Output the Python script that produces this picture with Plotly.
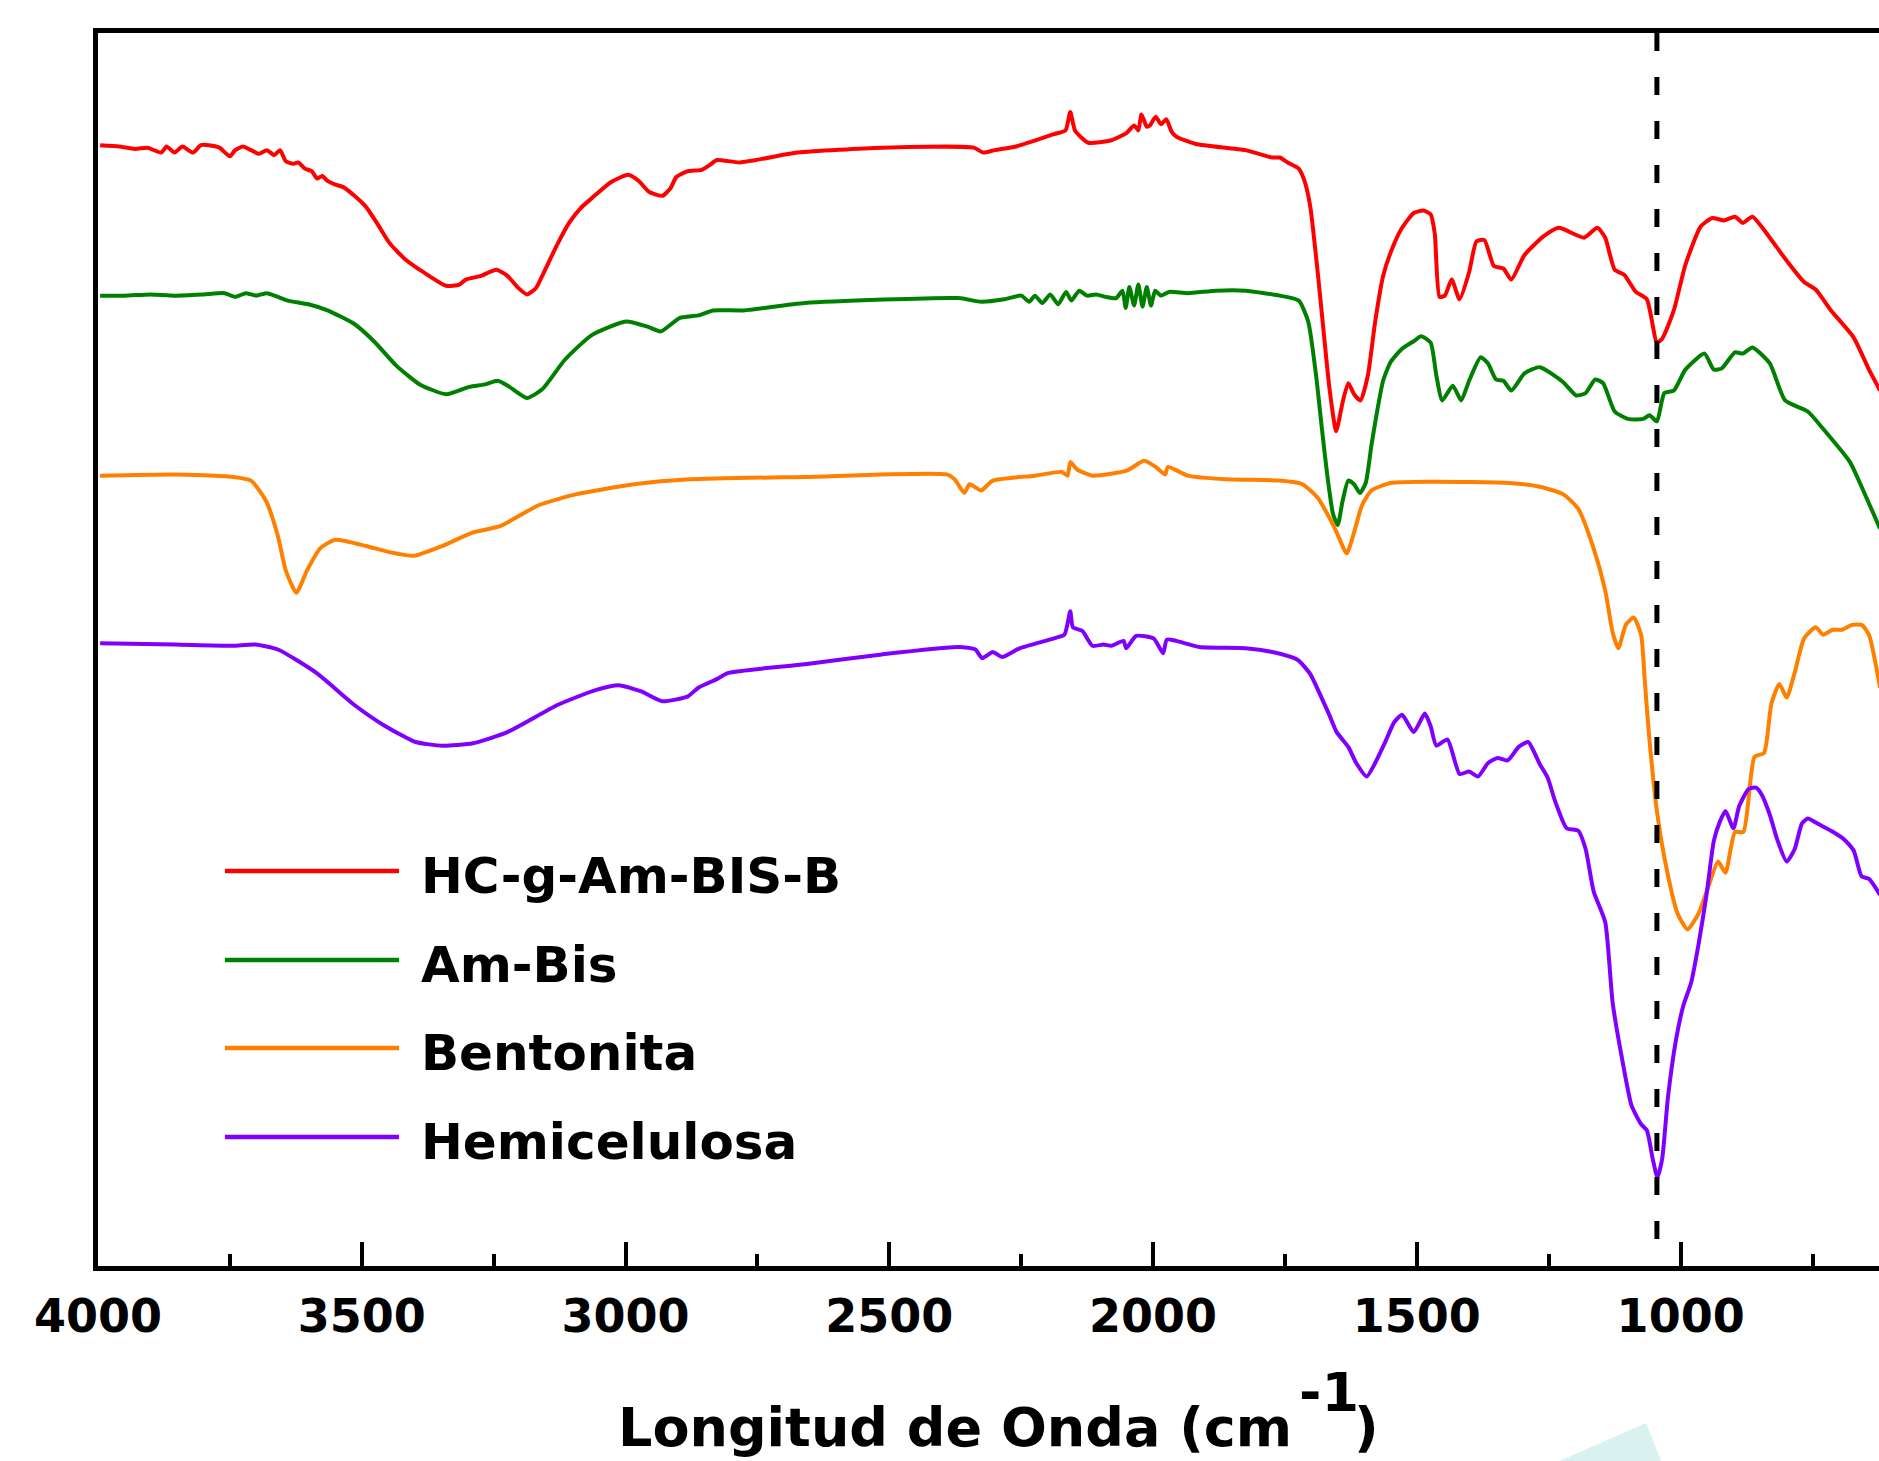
import plotly.graph_objects as go

# ---------------- data (wavenumber in cm-1, transmittance in a.u., offset per sample) -------------
hc_wn = [3996, 3960, 3930, 3906, 3880, 3870, 3855, 3840, 3820, 3805, 3790, 3770, 3750, 3740, 3725, 3710,
         3695, 3680, 3666, 3655, 3644, 3630, 3620, 3608, 3595, 3585, 3575, 3565, 3550, 3535, 3514, 3492,
         3470, 3448, 3419, 3383, 3340, 3315, 3303, 3274, 3245, 3224, 3205, 3187, 3170, 3158, 3130, 3107,
         3085, 3064, 3028, 2995, 2975, 2955, 2930, 2915, 2904, 2882, 2856, 2840, 2827, 2783, 2674, 2514,
         2340, 2322, 2300, 2260, 2188, 2166, 2157, 2148, 2123, 2079, 2050, 2036, 2028, 2022, 2012, 2006,
         1995, 1985, 1975, 1965, 1956, 1919, 1825, 1774, 1760, 1745, 1724, 1713, 1702, 1688, 1677, 1666,
         1653, 1641, 1630, 1619, 1607, 1593, 1579, 1564, 1546, 1528, 1506, 1488, 1474, 1466, 1457, 1447,
         1434, 1419, 1401, 1387, 1372, 1354, 1336, 1321, 1296, 1260, 1231, 1183, 1158, 1143, 1125, 1107,
         1085, 1064, 1045, 1035, 1013, 991, 962, 940, 918, 897, 882, 864, 831, 802, 766, 744, 715, 672,
         643, 622]
hc_t = [90.9, 90.8, 90.6, 90.7, 90.3, 90.8, 90.3, 90.8, 90.3, 90.9, 90.9, 90.7, 90.0, 90.5, 90.8, 90.5,
        90.2, 90.5, 90.1, 90.5, 89.6, 89.4, 89.5, 89.0, 88.8, 88.2, 88.4, 88.0, 87.7, 87.5, 86.8, 85.9,
        84.5, 83.0, 81.7, 80.6, 79.5, 79.6, 80.0, 80.3, 80.8, 80.3, 79.4, 78.8, 79.3, 80.3, 82.8, 84.6,
        85.8, 86.6, 87.9, 88.5, 88.0, 87.1, 86.8, 87.4, 88.3, 88.8, 88.9, 89.3, 89.7, 89.5, 90.3, 90.7,
        90.7, 90.3, 90.5, 90.8, 91.8, 92.1, 93.6, 92.1, 91.1, 91.3, 91.9, 92.5, 92.1, 93.4, 92.4, 92.5,
        93.2, 92.6, 93.0, 92.0, 91.6, 91.0, 90.5, 89.9, 89.9, 89.5, 89.0, 88.0, 85.9, 80.6, 75.9, 71.3,
        67.7, 70.0, 71.6, 70.7, 70.2, 72.2, 76.6, 80.3, 82.6, 84.2, 85.4, 85.6, 85.3, 83.7, 78.6, 78.7,
        80.0, 78.4, 80.6, 83.1, 83.2, 81.1, 80.9, 80.0, 82.0, 83.5, 84.2, 83.4, 84.2, 83.4, 80.8, 80.4,
        79.0, 78.4, 74.9, 75.2, 77.5, 81.2, 84.3, 85.0, 84.8, 85.1, 84.6, 85.1, 83.4, 81.7, 79.8, 79.2,
        77.5, 75.3, 72.7, 71.0]

ambis_wn = [3996, 3950, 3900, 3855, 3800, 3760, 3740, 3720, 3700, 3680, 3659, 3640, 3601, 3565, 3514,
            3477, 3434, 3390, 3340, 3296, 3267, 3242, 3220, 3187, 3158, 3115, 3064, 2999, 2960, 2933,
            2897, 2862, 2834, 2776, 2660, 2369, 2326, 2282, 2250, 2235, 2224, 2210, 2195, 2180, 2165,
            2155, 2140, 2125, 2108, 2090, 2070, 2058, 2052, 2045, 2036, 2028, 2020, 2012, 2004, 1996,
            1985, 1970, 1934, 1880, 1825, 1760, 1724, 1706, 1691, 1680, 1670, 1659, 1650, 1641, 1630,
            1619, 1608, 1597, 1586, 1575, 1564, 1550, 1528, 1506, 1492, 1474, 1463, 1452, 1432, 1416,
            1401, 1379, 1365, 1350, 1336, 1321, 1296, 1267, 1223, 1198, 1180, 1162, 1147, 1125, 1100,
            1071, 1059, 1045, 1031, 1013, 991, 955, 937, 922, 897, 882, 864, 831, 802, 759, 730, 679,
            657, 622]
ambis_t = [78.7, 78.7, 78.8, 78.7, 78.8, 78.9, 78.6, 78.9, 78.7, 78.9, 78.6, 78.3, 78.0, 77.5, 76.4,
           75.0, 73.0, 71.5, 70.7, 71.3, 71.5, 71.8, 71.3, 70.4, 71.1, 73.5, 75.5, 76.6, 76.2, 75.8,
           76.9, 77.1, 77.5, 77.5, 78.1, 78.5, 78.2, 78.4, 78.7, 78.2, 78.7, 78.1, 78.8, 78.0, 79.0,
           78.3, 79.1, 78.7, 78.8, 78.6, 78.5, 79.1, 77.7, 79.4, 77.9, 79.6, 77.8, 79.4, 77.9, 79.1,
           78.7, 79.0, 78.9, 79.1, 79.1, 78.7, 78.3, 76.6, 72.2, 67.9, 64.2, 61.0, 60.1, 62.0, 63.7,
           63.4, 62.7, 63.5, 66.6, 69.4, 71.8, 73.3, 74.4, 75.0, 75.4, 74.9, 72.2, 70.2, 71.4, 70.2,
           71.8, 73.7, 73.2, 71.9, 71.8, 71.0, 72.4, 72.9, 71.7, 70.6, 70.8, 71.9, 71.6, 69.3, 68.7,
           68.7, 69.0, 68.5, 70.8, 71.0, 72.7, 74.0, 72.7, 72.8, 74.1, 74.0, 74.5, 73.2, 70.2, 69.3,
           67.9, 65.2, 63.2, 59.8]

bent_wn = [3996, 3855, 3746, 3710, 3681, 3659, 3644, 3624, 3604, 3579, 3550, 3492, 3448, 3401, 3347,
           3289, 3238, 3165, 3093, 2984, 2877, 2660, 2391, 2376, 2358, 2348, 2326, 2304, 2224, 2173,
           2162, 2157, 2144, 2115, 2050, 2017, 1995, 1977, 1972, 1934, 1861, 1760, 1717, 1688, 1666,
           1652, 1633, 1619, 1604, 1586, 1550, 1470, 1325, 1267, 1223, 1194, 1165, 1143, 1129, 1118,
           1104, 1089, 1075, 1068, 1060, 1045, 1027, 1006, 987, 966, 948, 929, 915, 897, 881, 860,
           842, 828, 813, 799, 784, 766, 744, 730, 712, 694, 675, 657, 643, 622]
bent_t = [64.1, 64.2, 64.0, 63.7, 62.0, 59.2, 56.4, 54.6, 56.4, 58.2, 58.9, 58.4, 57.9, 57.6, 58.4,
          59.5, 60.0, 61.7, 62.6, 63.4, 63.8, 64.0, 64.2, 63.8, 62.7, 63.4, 62.9, 63.7, 64.1, 64.4,
          64.1, 65.2, 64.6, 64.1, 64.5, 65.3, 64.8, 64.2, 64.8, 64.1, 63.8, 63.7, 63.4, 62.3, 60.7,
          59.5, 57.8, 59.5, 61.7, 62.9, 63.5, 63.6, 63.5, 63.2, 62.6, 61.4, 58.2, 54.8, 51.4, 50.1,
          52.0, 52.6, 51.2, 47.5, 43.1, 36.9, 32.3, 28.6, 27.3, 28.6, 30.7, 32.8, 31.9, 35.2, 35.2, 41.3,
          41.6, 45.6, 47.2, 46.1, 48.1, 50.9, 51.8, 51.2, 51.6, 51.6, 52.0, 52.0, 51.2, 46.9]

hemi_wn = [3996, 3855, 3746, 3702, 3659, 3586, 3514, 3456, 3398, 3347, 3289, 3224, 3129, 3057, 3013,
           2970, 2930, 2882, 2862, 2827, 2805, 2660, 2514, 2369, 2337, 2324, 2304, 2286, 2253, 2188,
           2168, 2157, 2152, 2134, 2115, 2094, 2079, 2056, 2051, 2032, 1999, 1981, 1974, 1956, 1912,
           1825, 1774, 1739, 1724, 1702, 1684, 1666, 1652, 1630, 1615, 1595, 1579, 1561, 1543, 1528,
           1506, 1485, 1474, 1463, 1442, 1419, 1401, 1384, 1365, 1347, 1328, 1307, 1289, 1267, 1252,
           1238, 1216, 1194, 1180, 1165, 1143, 1129, 1111, 1093, 1075, 1064, 1053, 1044, 1035, 1024,
           1009, 995, 980, 966, 951, 937, 926, 915, 900, 889, 871, 857, 846, 831, 817, 799, 784, 770,
           759, 737, 715, 690, 672, 657, 643, 622]
hemi_t = [50.5, 50.4, 50.3, 50.4, 50.0, 48.1, 45.5, 43.8, 42.5, 42.2, 42.4, 43.3, 45.5, 46.7, 47.1,
          46.6, 45.8, 46.2, 46.9, 47.6, 48.1, 48.8, 49.6, 50.2, 50.0, 49.3, 49.8, 49.4, 50.1, 50.9,
          51.2, 53.1, 51.8, 51.5, 50.3, 50.4, 50.3, 50.7, 50.1, 51.1, 50.9, 49.7, 50.8, 50.7, 50.2,
          50.1, 49.8, 49.4, 49.1, 48.0, 46.4, 44.7, 43.3, 42.1, 40.8, 39.7, 40.8, 42.4, 44.1, 44.7,
          43.3, 44.8, 43.8, 42.2, 42.7, 39.9, 40.1, 39.7, 40.8, 41.2, 41.0, 42.1, 42.5, 40.7, 39.6,
          37.7, 35.5, 35.3, 33.8, 30.4, 27.9, 21.4, 16.8, 13.0, 11.5, 11.0, 8.7, 7.2, 8.7, 13.7,
          18.3, 21.1, 23.0, 26.1, 30.1, 34.5, 36.0, 36.9, 35.5, 37.3, 38.7, 38.8, 38.2, 36.6, 34.6, 32.8,
          33.8, 35.9, 36.3, 35.8, 35.3, 34.6, 33.7, 31.6, 31.4, 30.1]

series_names = ["HC-g-Am-BIS-B", "Am-Bis", "Bentonita", "Hemicelulosa"]
series_colors = ["#FF0000", "#008000", "#FF8000", "#8000FF"]
series_wn = [hc_wn, ambis_wn, bent_wn, hemi_wn]
series_t = [hc_t, ambis_t, bent_t, hemi_t]

ref_band = 1045          # marked band (cm-1)
x_range = [4000, 624]
y_range = [0, 100]

for w, t in zip(series_wn, series_t):
    assert len(w) == len(t), (len(w), len(t))

# ---------------- figure -------------
FONT = "DejaVu Sans"
fig = go.Figure()
for name, col, w, t in zip(series_names, series_colors, series_wn, series_t):
    fig.add_trace(go.Scatter(x=w, y=t, mode="lines", name=name,
                             line=dict(color=col, width=4, shape="spline", smoothing=0.55),
                             showlegend=False))

fig.add_shape(type="line", xref="x", yref="paper", x0=ref_band, x1=ref_band, y0=1, y1=0.01,
              line=dict(color="black", width=5, dash="18px,26px"))

# manual legend (long line samples as in the original)
leg_y = [0.3204, 0.2482, 0.1768, 0.1046]
for name, col, ly in zip(series_names, series_colors, leg_y):
    fig.add_shape(type="line", xref="paper", yref="paper", x0=0.0713, x1=0.169, y0=ly, y1=ly,
                  line=dict(color=col, width=4.5))
    fig.add_annotation(xref="paper", yref="paper", x=0.1802, y=ly - 0.004, text=name, showarrow=False,
                       xanchor="left", yanchor="middle",
                       font=dict(family=FONT, size=50, color="black", weight="bold"))

# axis title
tfont = dict(family=FONT, size=54, color="black", weight="bold")
fig.add_annotation(xref="paper", yref="paper", x=0.6715, y=-0.1306, text="Longitud de Onda (cm",
                   showarrow=False, xanchor="right", yanchor="middle", font=tfont)
fig.add_annotation(xref="paper", yref="paper", x=0.6732, y=-0.1022, text="-1",
                   showarrow=False, xanchor="left", yanchor="middle", font=tfont)
fig.add_annotation(xref="paper", yref="paper", x=0.7041, y=-0.1306, text=")",
                   showarrow=False, xanchor="left", yanchor="middle", font=tfont)

# decorative teal corner shape seen at the bottom of the original image
fig.add_shape(type="path", xref="paper", yref="paper",
              path="M 0.8692 -0.1273 L 0.8810 -0.17 L 0.8018 -0.17 Z",
              fillcolor="#DAF2EF", line=dict(width=0), layer="below")

fig.update_layout(
    width=1879, height=1461,
    margin=dict(l=98, r=0, t=33, b=195, pad=0),
    paper_bgcolor="white", plot_bgcolor="white",
    xaxis=dict(range=x_range, showline=True, linecolor="black", linewidth=5, mirror=True,
               ticks="inside", ticklen=24, tickwidth=4, tickcolor="black",
               tick0=0, dtick=500, showgrid=False, zeroline=False,
               tickfont=dict(family=FONT, size=46, color="black", weight="bold"),
               ticklabelstandoff=6,
               minor=dict(ticks="inside", ticklen=12, tickwidth=4, tickcolor="black", dtick=250,
                          showgrid=False)),
    yaxis=dict(range=y_range, showline=True, linecolor="black", linewidth=5,
               showticklabels=False, ticks="", showgrid=False, zeroline=False),
)

fig.write_html("out.html")
